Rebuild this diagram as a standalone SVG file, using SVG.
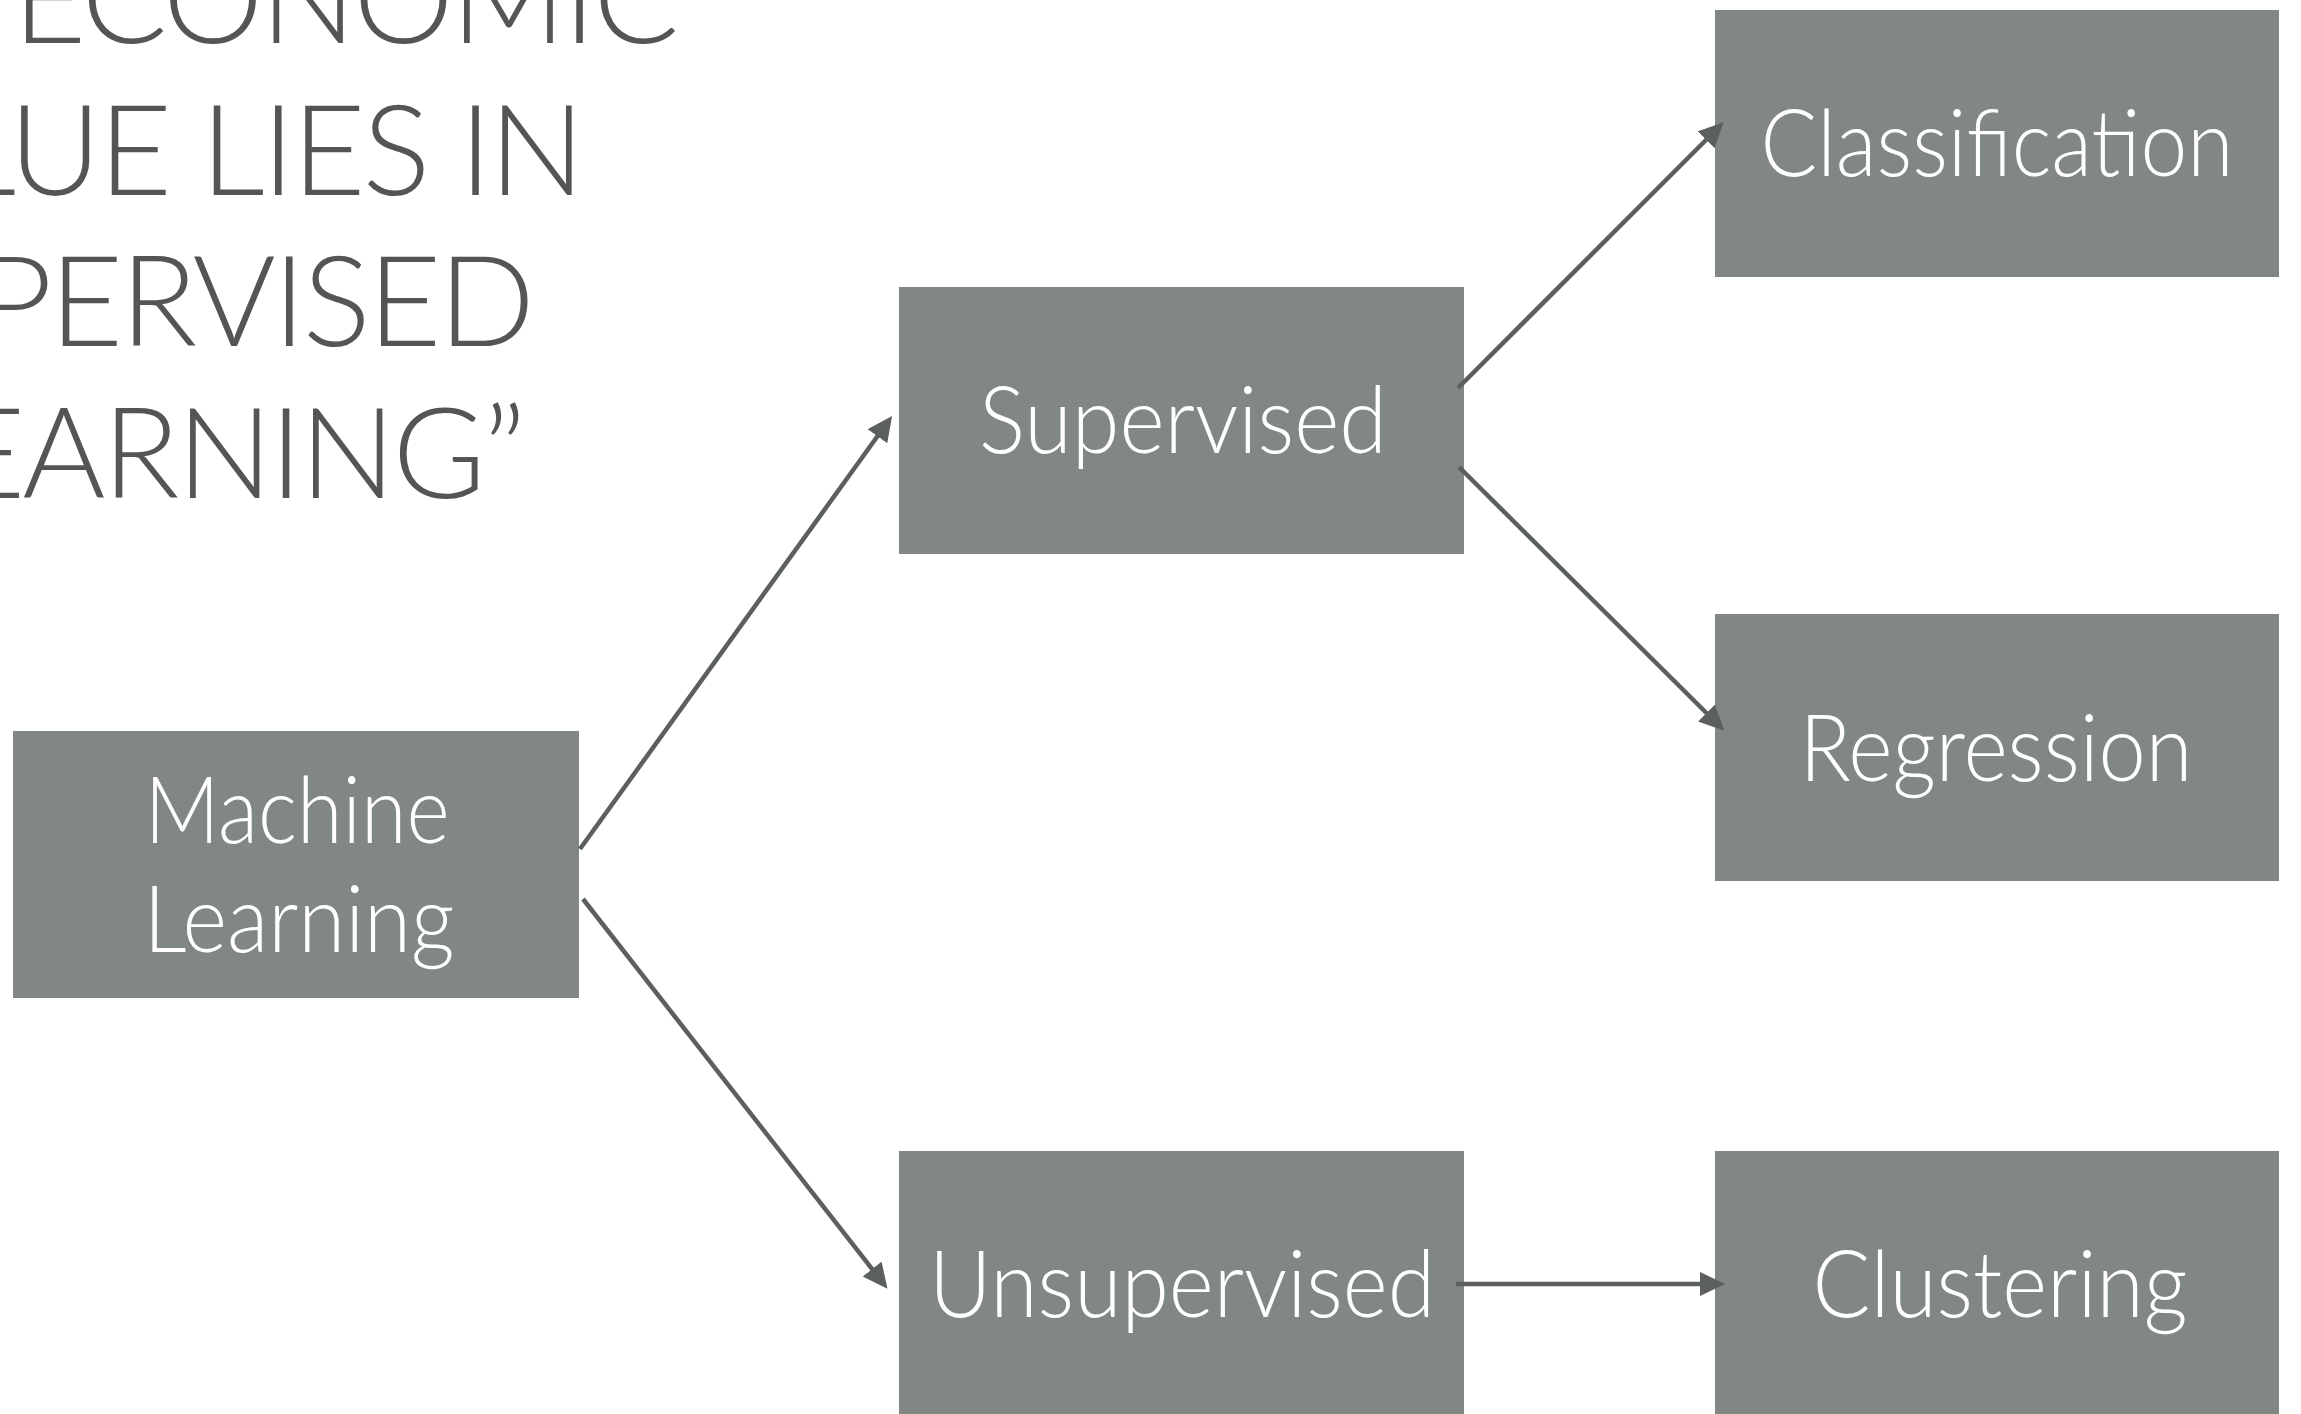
<svg xmlns="http://www.w3.org/2000/svg" width="2301" height="1414" viewBox="0 0 2301 1414">
<defs>
<style>
.box{fill:#818784;}
.lbl{fill:#ffffff;font-family:"Lato","Open Sans","Liberation Sans",sans-serif;font-weight:300;font-size:92px;text-anchor:middle;}
.title{fill:#555555;font-family:"Lato","Open Sans","Liberation Sans",sans-serif;font-weight:300;font-size:127px;text-anchor:end;letter-spacing:-3px;}
.conn{stroke:#5b5f5d;stroke-width:4.5;fill:none;marker-end:url(#arrow);}
</style>
<marker id="arrow" markerUnits="userSpaceOnUse" markerWidth="27" markerHeight="26" refX="12" refY="12" orient="auto">
<path d="M0,0 L25,12 L0,24 Z" fill="#5b5f5d"/>
</marker>
</defs>
<rect width="2301" height="1414" fill="#ffffff"/>
<g id="title">
<text class="title" x="676" y="43">ECONOMIC</text>
<text class="title" x="582" y="195">VALUE LIES IN</text>
<text class="title" x="532" y="346">SUPERVISED</text>
<text class="title" x="523" y="498">LEARNING”</text>
</g>
<g id="machine-learning">
<rect class="box" x="13" y="731" width="566" height="267"/>
<text class="lbl" x="297" y="843" textLength="305" lengthAdjust="spacingAndGlyphs">Machine</text>
<text class="lbl" x="299" y="952" textLength="311" lengthAdjust="spacingAndGlyphs">Learning</text>
</g>
<g id="supervised">
<rect class="box" x="899" y="287" width="565" height="267"/>
<text class="lbl" x="1183" y="453" textLength="408" lengthAdjust="spacingAndGlyphs">Supervised</text>
</g>
<g id="unsupervised">
<rect class="box" x="899" y="1151" width="565" height="267"/>
<text class="lbl" x="1182" y="1317" textLength="506" lengthAdjust="spacingAndGlyphs">Unsupervised</text>
</g>
<g id="classification">
<rect class="box" x="1715" y="10" width="564" height="267"/>
<text class="lbl" x="1997" y="176" textLength="473" lengthAdjust="spacingAndGlyphs">Classification</text>
</g>
<g id="regression">
<rect class="box" x="1715" y="614" width="564" height="267"/>
<text class="lbl" x="1996" y="781" textLength="393" lengthAdjust="spacingAndGlyphs">Regression</text>
</g>
<g id="clustering">
<rect class="box" x="1715" y="1151" width="564" height="267"/>
<text class="lbl" x="2000" y="1317" textLength="375" lengthAdjust="spacingAndGlyphs">Clustering</text>
</g>
<g id="connectors">
<path class="conn" d="M580,849 L884.5,426.5"/>
<path class="conn" d="M583,899 L879.5,1278.5"/>
<path class="conn" d="M1458,388 L1714.5,131.5"/>
<path class="conn" d="M1459,467 L1715,721.5"/>
<path class="conn" d="M1456,1284 L1712,1284"/>
</g>
</svg>
